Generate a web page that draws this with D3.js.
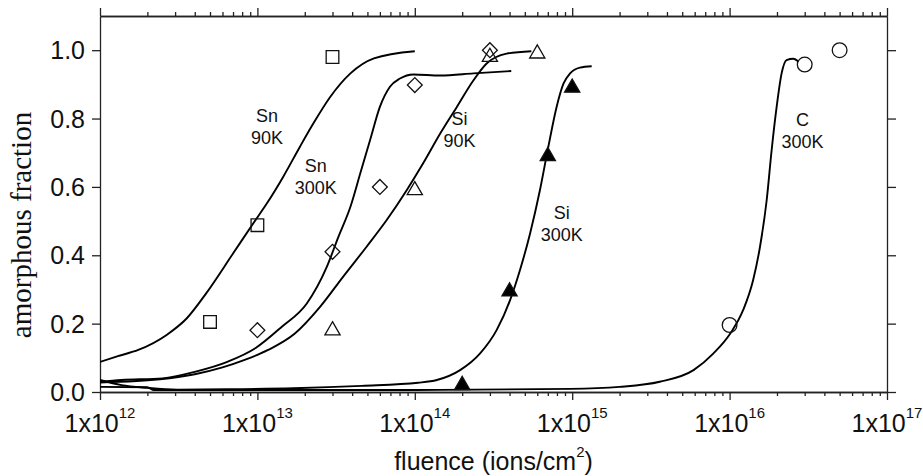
<!DOCTYPE html>
<html>
<head>
<meta charset="utf-8">
<script src="https://cdn.jsdelivr.net/npm/d3@7/dist/d3.min.js"></script>
<style>
body { margin: 0; background: #fff; }
.axis path, .axis line { stroke: #222; stroke-width: 1.3; }
.axis text { display: none; }
.tickLabel { font-family: "Liberation Sans", Arial, sans-serif; font-size: 25px; fill: #111; }
.annot { font-family: "Liberation Sans", Arial, sans-serif; font-size: 18px; fill: #111; }
.fit { fill: none; stroke: #000; stroke-width: 1.9; }
</style>
</head>
<body>
<div id="chart"></div>
<script>
var width = 923;
var height = 476;

// axis ticks
var decades = [1e12, 1e13, 1e14, 1e15, 1e16, 1e17];
var decadeExp = ["12", "13", "14", "15", "16", "17"];
var yTicks = [0, 0.2, 0.4, 0.6, 0.8, 1.0];

// measured points [fluence, fraction]
var sn90Points = [[5e12, 0.205], [1e13, 0.488], [3e13, 0.98]];
var sn300Points = [[1e13, 0.181], [3e13, 0.41], [6e13, 0.60], [1e14, 0.898], [3e14, 1.0]];
var si90Points = [[3e13, 0.18], [1e14, 0.59], [3e14, 0.98], [6e14, 0.99]];
var si300Points = [[2e14, 0.02], [4e14, 0.294], [7e14, 0.69], [1e15, 0.89]];
var c300Points = [[1e16, 0.196], [3e16, 0.958], [5e16, 1.0]];

// fitted curves
var sn90Fit = [[1e12, 0.088], [1.3e12, 0.105], [1.75e12, 0.123], [2.65e12, 0.167], [3.55e12, 0.215],
    [4.75e12, 0.29], [7e12, 0.405], [9.4e12, 0.493], [1.15e13, 0.552], [1.46e13, 0.63], [1.86e13, 0.717],
    [2.27e13, 0.786], [2.9e13, 0.863], [3.9e13, 0.932], [5.5e13, 0.976], [1e14, 0.997]];
var sn300Fit = [[1e12, 0.03], [1.37e12, 0.035], [2.5e12, 0.04], [4e12, 0.059], [6.5e12, 0.089],
    [9.7e12, 0.128], [1.43e13, 0.191], [2.06e13, 0.259], [2.76e13, 0.366], [3.27e13, 0.454],
    [3.9e13, 0.542], [4.5e13, 0.639], [5.2e13, 0.737], [6e13, 0.834], [6.95e13, 0.893],
    [8.05e13, 0.917], [9.8e13, 0.929], [1.45e14, 0.926], [2.36e14, 0.932], [4.1e14, 0.939]];
var si90Fit = [[1e12, 0.028], [2.5e12, 0.038], [4e12, 0.052], [6e12, 0.072], [8.3e12, 0.094],
    [1.17e13, 0.123], [1.73e13, 0.171], [2.5e13, 0.249], [3.5e13, 0.337], [4.94e13, 0.425],
    [6.63e13, 0.503], [8.9e13, 0.591], [1.13e14, 0.669], [1.45e14, 0.756], [1.85e14, 0.834],
    [2.36e14, 0.912], [2.86e14, 0.961], [3.83e14, 0.99], [5.5e14, 0.997]];
var si300Fit = [[1e12, 0.035], [1.37e12, 0.02], [2e12, 0.012], [3.1e12, 0.007], [6.5e12, 0.008],
    [1.7e13, 0.011], [4.6e13, 0.018], [1.05e14, 0.027], [1.38e14, 0.035], [1.94e14, 0.064],
    [2.6e14, 0.113], [3.31e14, 0.181], [4.03e14, 0.269], [4.66e14, 0.357], [5.4e14, 0.464],
    [6.24e14, 0.591], [7.05e14, 0.717], [7.96e14, 0.834], [8.8e14, 0.902], [9.7e14, 0.932],
    [1.12e15, 0.949], [1.33e15, 0.953]];
var c300Fit = [[1e12, 0.015], [2e12, 0.014], [2.2e12, 0.006], [1e14, 0.006], [9.7e14, 0.009],
    [2e15, 0.015], [3.6e15, 0.03], [5.9e15, 0.064], [7.9e15, 0.113], [1.01e16, 0.171],
    [1.22e16, 0.24], [1.41e16, 0.327], [1.56e16, 0.425], [1.72e16, 0.561], [1.85e16, 0.708],
    [1.99e16, 0.834], [2.14e16, 0.932], [2.3e16, 0.971], [2.54e16, 0.975], [2.74e16, 0.966]];

// curve labels
var labelNames = [["Sn", "90K"], ["Sn", "300K"], ["Si", "90K"], ["Si", "300K"], ["C", "300K"]];
var labelAt = [[1.15e13, 0.789], [2.35e13, 0.644], [1.92e14, 0.781], [8.57e14, 0.506], [2.91e16, 0.778]];

var plotLeft = 100, plotRight = 887, plotTop = 16, plotBottom = 392;

var xScale = d3.scaleLog()
    .domain([1e12, 1e17])
    .range([plotLeft, plotRight]);
var yScale = d3.scaleLinear()
    .domain([0, 1.1])
    .range([plotBottom, plotTop]);

var svgCanvas = d3.select("#chart")
    .append("svg")
    .attr("width", width)
    .attr("height", height);

svgCanvas.append("defs").append("clipPath")
    .attr("id", "plotClip")
    .append("rect")
    .attr("x", plotLeft).attr("y", plotTop)
    .attr("width", plotRight - plotLeft).attr("height", plotBottom - plotTop);

// minor log ticks 2..9 in each decade
var minorTicks = [];
decades.slice(0, -1).forEach(function(d) {
    for (var k = 2; k < 10; k++) minorTicks.push(k * d);
});

// bottom + top axes
svgCanvas.append("g").attr("class", "axis")
    .attr("transform", "translate(0," + plotBottom + ")")
    .call(d3.axisBottom(xScale).tickValues(minorTicks).tickSize(4).tickSizeOuter(0));
svgCanvas.append("g").attr("class", "axis")
    .attr("transform", "translate(0," + plotBottom + ")")
    .call(d3.axisBottom(xScale).tickValues(decades).tickSize(8).tickSizeOuter(0));
svgCanvas.append("g").attr("class", "axis")
    .attr("transform", "translate(0," + plotTop + ")")
    .call(d3.axisTop(xScale).tickValues(minorTicks).tickSize(4).tickSizeOuter(0));
svgCanvas.append("g").attr("class", "axis")
    .attr("transform", "translate(0," + plotTop + ")")
    .call(d3.axisTop(xScale).tickValues(decades).tickSize(8).tickSizeOuter(0));

// left + right axes
svgCanvas.append("g").attr("class", "axis")
    .attr("transform", "translate(" + plotLeft + ",0)")
    .call(d3.axisLeft(yScale).tickValues(yTicks).tickSize(8).tickSizeOuter(0));
svgCanvas.append("g").attr("class", "axis")
    .attr("transform", "translate(" + plotRight + ",0)")
    .call(d3.axisRight(yScale).tickValues(yTicks).tickSize(9).tickSizeOuter(0));

// y tick labels
svgCanvas.selectAll("text.yTick")
    .data(yTicks)
    .enter()
    .append("text")
    .attr("class", "tickLabel yTick")
    .attr("x", plotLeft - 15)
    .attr("y", function(d) { return yScale(d); })
    .attr("dy", "0.36em")
    .attr("text-anchor", "end")
    .text(function(d) { return d3.format(".1f")(d); });

// x tick labels 1x10^n
var xLabels = svgCanvas.selectAll("text.xTick")
    .data(decades)
    .enter()
    .append("text")
    .attr("class", "tickLabel xTick")
    .attr("x", function(d) { return xScale(d); })
    .attr("y", 432)
    .attr("text-anchor", "middle");
xLabels.append("tspan").text("1x10");
xLabels.append("tspan")
    .attr("dy", -14)
    .attr("font-size", "15px")
    .text(function(d, i) { return decadeExp[i]; });

// axis titles
var xTitle = svgCanvas.append("text")
    .attr("class", "tickLabel")
    .attr("x", (plotLeft + plotRight) / 2)
    .attr("y", 470)
    .attr("text-anchor", "middle");
xTitle.append("tspan").text("fluence (ions/cm");
xTitle.append("tspan").attr("dy", -13).attr("font-size", "15px").text("2");
xTitle.append("tspan").attr("dy", 13).text(")");

svgCanvas.append("text")
    .attr("transform", "translate(31,225) rotate(-90)")
    .attr("text-anchor", "middle")
    .attr("font-family", "'Liberation Serif', 'Times New Roman', serif")
    .attr("font-size", "29px")
    .attr("fill", "#111")
    .text("amorphous fraction");

// fit curves
var fitLine = d3.line()
    .x(function(d) { return xScale(d[0]); })
    .y(function(d) { return yScale(d[1]); })
    .curve(d3.curveMonotoneX);

var curves = svgCanvas.append("g").attr("clip-path", "url(#plotClip)");
[sn90Fit, sn300Fit, si90Fit, si300Fit, c300Fit].forEach(function(fit) {
    curves.append("path")
        .attr("class", "fit")
        .attr("d", fitLine(fit));
});

// markers
function drawMarkers(points, symbolType, size, rotate, fill) {
    svgCanvas.append("g")
        .selectAll("path")
        .data(points)
        .enter()
        .append("path")
        .attr("d", d3.symbol().type(symbolType).size(size))
        .attr("transform", function(d) {
            return "translate(" + xScale(d[0]) + "," + yScale(d[1]) + ") rotate(" + rotate + ")";
        })
        .attr("fill", fill)
        .attr("stroke", "#111")
        .attr("stroke-width", 1.3);
}

drawMarkers(sn90Points, d3.symbolSquare, 160, 0, "none");
drawMarkers(sn300Points, d3.symbolSquare, 110, 45, "none");
drawMarkers(si90Points, d3.symbolTriangle, 100, 0, "none");
drawMarkers(si300Points, d3.symbolTriangle, 100, 0, "#000");
drawMarkers(c300Points, d3.symbolCircle, 170, 0, "none");

// curve labels
var annots = svgCanvas.selectAll("text.annot")
    .data(labelNames)
    .enter()
    .append("text")
    .attr("class", "annot")
    .attr("text-anchor", "middle")
    .attr("y", function(d, i) { return yScale(labelAt[i][1]); });
annots.append("tspan")
    .attr("x", function(d, i) { return xScale(labelAt[i][0]); })
    .text(function(d) { return d[0]; });
annots.append("tspan")
    .attr("x", function(d, i) { return xScale(labelAt[i][0]); })
    .attr("dy", 22)
    .text(function(d) { return d[1]; });
</script>
</body>
</html>
